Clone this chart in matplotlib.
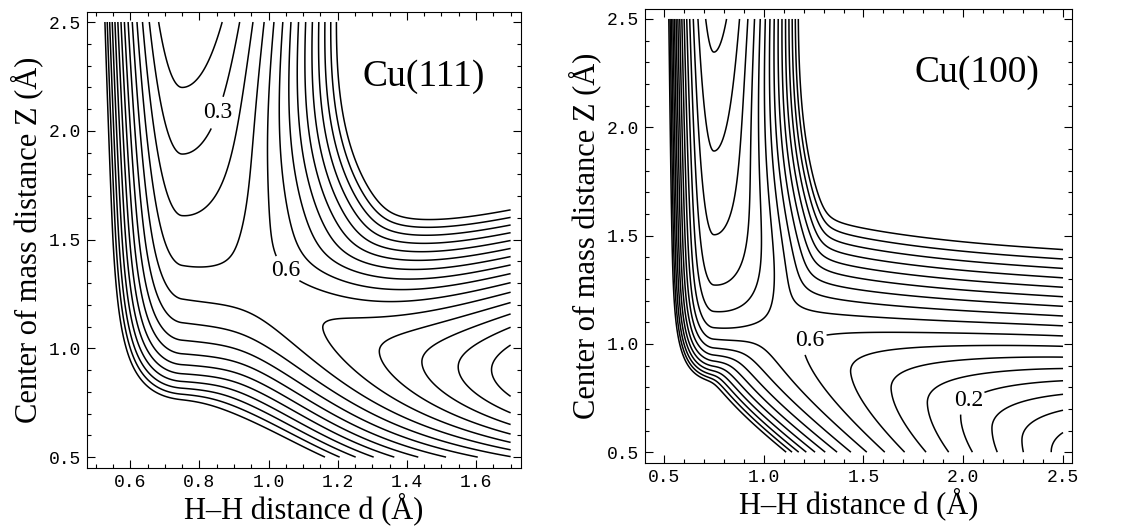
import numpy as np
import matplotlib.pyplot as plt
from matplotlib.ticker import MultipleLocator

plt.rcParams['font.family'] = ['Liberation Serif', 'DejaVu Serif']
plt.rcParams['contour.negative_linestyle'] = 'solid'

# contour levels (eV)
levels_111 = [0.1, 0.2, 0.3, 0.4, 0.5, 0.6, 0.7, 0.8, 0.9, 1.0, 1.1, 1.2, 1.3, 1.4, 1.5]
levels_100 = [-0.1, 0.0, 0.1, 0.2, 0.3, 0.4, 0.5, 0.6, 0.7, 0.8, 0.9, 1.0, 1.1, 1.2, 1.3, 1.4, 1.5]

# H2 bond: Morse depth and range (short side), bond length
h2_bond = [4.75, 1.94, 0.75]

# molecular channel: E0, Es, Am, bm, Aw, bw, Zw, k0, q, bq, kmin
mol_111 = [0.105, 0.30, 0.0052, 2.4, 0.15, 6.0, 1.0, 7.5, 0.07, 3.3, 0.0]
mol_100 = [0.07, 0.21, 0.0015, 2.8, 0.30, 7.0, 1.0, 7.5, 0.07, 3.3, 1.0]

# atomic channel: P0, A, w, dr, za0, slin, sa, ga, dref, zc, Da, ba, kl, kk
atom_111 = [0.05, 0.65, 0.6, 1.7, 0.885, 0.0, 0.525, 6.0, 1.07, 0.6, 7.3, 0.8, 4.2, 0.6]
atom_100 = [-0.14, 1.10, 1.6, 2.5, 0.48, 0.36, 0.0, 1.0, 1.0, 1.0, 5.75, 0.8, 1.65, 0.0]

# repulsive walls: Cl, gl, dl, Cd, gd, md, s0
wall_111 = [0.3, 7.0, 0.75, 0.0, 6.7, 0.8, 1.388]
wall_100 = [0.3, 7.0, 0.75, 0.45, 6.7, 0.8, 1.396]

coupling_111 = 0.12
coupling_100 = 0.12

# data ranges
d_111 = [0.5, 1.7]
d_100 = [0.5, 2.5]
z_range = [0.5, 2.5]

# contour label positions
labels_111 = [(0.3, (0.82, 2.10)), (0.6, (1.05, 1.36))]
labels_100 = [(0.6, (1.20, 1.06)), (0.2, (1.98, 0.79))]


def pes(d, z, mol, atom, wall, c):
    D, a, d0 = h2_bond
    E0, Es, Am, bm, Aw, bw, Zw, k0, q, bq, kmin = mol
    k = k0 / (1 + q * np.exp(-bq * (z - 2.5))) + kmin
    bond = np.where(d < d0, D * (1 - np.exp(-a * (d - d0)))**2, k * (d - d0)**2)
    v1 = bond + E0 + Es * (2.5 - z) + Am * np.exp(-bm * (z - 2.5)) + Aw * np.exp(-bw * (z - Zw))
    P0, A, w, dr, za0, slin, sa, ga, dref, zc, Da, ba, kl, kk = atom
    h = sa * np.exp(-ga * (d - dref))
    za = za0 + slin * (dr - d) + h / (1 + h / zc)
    x = z - za
    kd = kl * np.clip(1 - kk * (dr - d), 0.15, None)
    up = Da * (1 - np.exp(-ba * x))**2
    Cl, gl, dl, Cd, gd, md, s0 = wall
    v2 = (P0 + A * np.tanh((dr - d) / w) + np.where(x > 0, up, kd * x**2)
          + Cl * np.exp(-gl * (d - dl)) + Cd * np.exp(-gd * (z + md * d - s0)))
    return 0.5 * (v1 + v2) - np.sqrt(0.25 * (v1 - v2)**2 + c**2)


def panel(ax, drange, levels, mol, atom, wall, c, labels, name, name_pos):
    d = np.linspace(drange[0], drange[1], 400)
    z = np.linspace(z_range[0], z_range[1], 400)
    D, Z = np.meshgrid(d, z)
    V = pes(D, Z, mol, atom, wall, c)
    lv = [l for l, p in labels]
    plain = [l for l in levels if min(abs(l - m) for m in lv) > 1e-6]
    ax.contour(D, Z, V, levels=plain, colors='k', linewidths=1.1)
    for l, p in labels:
        cs = ax.contour(D, Z, V, levels=[l], colors='k', linewidths=1.1)
        txt = ax.clabel(cs, manual=[p], fmt='%.1f', fontsize=17, inline=True, inline_spacing=3)
        for t in txt:
            t.set_rotation(0)
    ax.text(name_pos[0], name_pos[1], name, fontsize=27, ha='center', va='center')
    ax.set_xlabel('H\u2013H distance d (\u00c5)', fontsize=22, labelpad=1)
    ax.set_ylabel('Center of mass distance Z (\u00c5)', fontsize=22, labelpad=4)
    ax.tick_params(which='both', direction='in', top=True, right=True, width=0.8)
    ax.tick_params(which='major', length=6, labelsize=13, pad=4)
    ax.tick_params(which='minor', length=3)
    ax.yaxis.set_major_locator(MultipleLocator(0.5))
    ax.yaxis.set_minor_locator(MultipleLocator(0.1))
    ax.set_ylim(0.45, 2.546)
    for lab in ax.get_xticklabels() + ax.get_yticklabels():
        lab.set_family('Liberation Mono')


fig = plt.figure(figsize=(11.37, 5.32), dpi=100)
ax1 = fig.add_axes([87 / 1137, 64 / 532, 434 / 1137, 456 / 532])
ax2 = fig.add_axes([645 / 1137, 69 / 532, 427 / 1137, 454 / 532])

ax1.xaxis.set_major_locator(MultipleLocator(0.2))
ax1.xaxis.set_minor_locator(MultipleLocator(0.05))
ax1.set_xlim(0.475, 1.73)
ax2.xaxis.set_major_locator(MultipleLocator(0.5))
ax2.xaxis.set_minor_locator(MultipleLocator(0.1))
ax2.set_xlim(0.405, 2.545)

panel(ax1, d_111, levels_111, mol_111, atom_111, wall_111, coupling_111, labels_111, 'Cu(111)', (1.45, 2.25))
panel(ax2, d_100, levels_100, mol_100, atom_100, wall_100, coupling_100, labels_100, 'Cu(100)', (2.07, 2.25))
ax1.set_xticks([0.6, 0.8, 1.0, 1.2, 1.4, 1.6])
ax1.set_xticklabels(['0.6', '0.8', '1.0', '1.2', '1.4', '1.6'], family='Liberation Mono')

fig.savefig('out.png', dpi=100)
